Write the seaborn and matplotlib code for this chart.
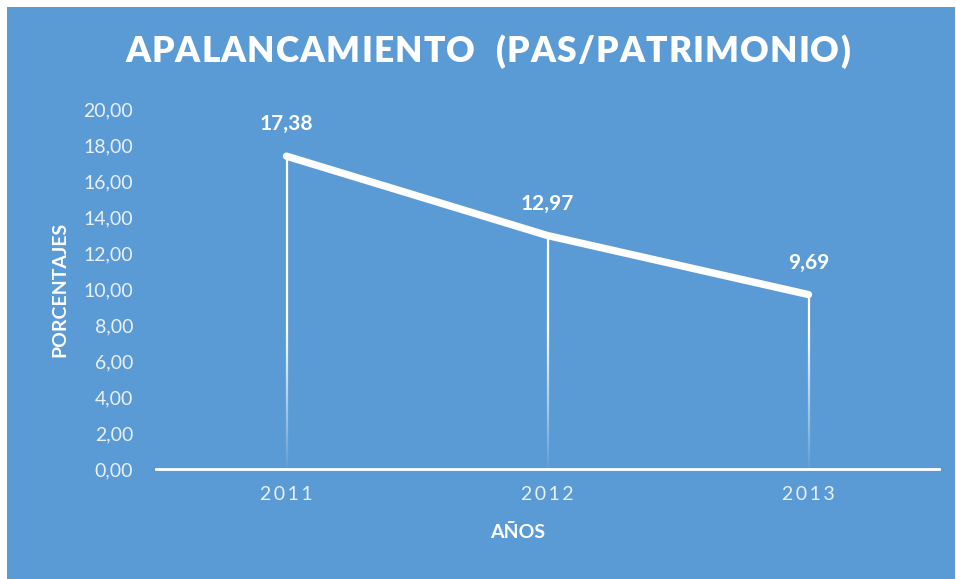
import numpy as np
import pandas as pd
import matplotlib
matplotlib.use("Agg")
import matplotlib.pyplot as plt
import seaborn as sns
from matplotlib.collections import LineCollection
from matplotlib.patches import Rectangle

# ---- data ----
years = ["2011", "2012", "2013"]
values = [17.38, 12.97, 9.69]
yticks = [0, 2, 4, 6, 8, 10, 12, 14, 16, 18, 20]
title = "APALANCAMIENTO  (PAS/PATRIMONIO)"
xlabel = "AÑOS"
ylabel = "PORCENTAJES"

sns.set_theme(style="white")
plt.rcParams["font.family"] = ["Lato", "DejaVu Sans"]

BG = "#5B9BD5"
TICK = "#E9F0F8"
W, H = 956, 579
fig = plt.figure(figsize=(W / 100, H / 100), dpi=100, facecolor="white")
fig.patches.append(Rectangle((7 / W, 0), (955 - 7) / W, (H - 7) / H,
                             transform=fig.transFigure, facecolor=BG,
                             edgecolor="none", zorder=-10))

ax = fig.add_axes([156 / W, 110 / H, (939 - 156) / W, 360 / H])
ax.set_facecolor("none")
ax.set_zorder(1)

df = pd.DataFrame({"pos": np.arange(len(years)), "val": values, "year": years})

# drop lines with gradient fading toward the axis
segs, cols = [], []
for p, v in zip(df["pos"], df["val"]):
    ys = np.linspace(0, v, 80)
    for a, b in zip(ys[:-1], ys[1:]):
        segs.append([(p, a), (p, b)])
        m = (a + b) / 2
        alpha = float(np.clip(0.03 + m / 8.0, 0, 1))
        cols.append((1, 1, 1, alpha))
ax.add_collection(LineCollection(segs, colors=cols, linewidths=1.6, zorder=2))

sns.lineplot(data=df, x="pos", y="val", color="white", linewidth=5.3,
             ax=ax, zorder=3, solid_capstyle="round", solid_joinstyle="round")

for p, v in zip(df["pos"], df["val"]):
    ax.annotate(f"{v:.2f}".replace(".", ","), (p, v), xytext=(0, 23),
                textcoords="offset points", ha="center", va="center",
                color="white", fontsize=15, fontweight="bold")

ax.set_xlim(-0.5, len(years) - 0.5)
ax.set_ylim(0, 20)
ax.set_yticks(yticks)
ax.set_yticklabels([f"{t:.2f}".replace(".", ",") for t in yticks],
                   color=TICK, fontsize=14)
ax.set_xticks(df["pos"])
ax.set_xticklabels(["\u2009".join(y) for y in years], color=TICK, fontsize=14)
ax.tick_params(axis="y", length=0, pad=16.5)
ax.tick_params(axis="x", length=0, pad=12)
for s in ["top", "right", "left"]:
    ax.spines[s].set_visible(False)
ax.spines["bottom"].set_color("white")
ax.spines["bottom"].set_linewidth(2)
ax.spines["bottom"].set_zorder(4)

ax.set_xlabel(xlabel, color="white", fontsize=14, fontweight="bold")
ax.set_ylabel(ylabel, color="white", fontsize=14, fontweight="bold")
ax.xaxis.set_label_coords((518 - 156) / 783, (469 - 524) / 360)
ax.yaxis.set_label_coords((68 - 156) / 783, 0.5)

# title with letter spacing
renderer = fig.canvas.get_renderer()
tkw = dict(color="white", fontsize=25.5, fontweight="heavy")
widths = []
for ch in title:
    t = fig.text(0, 0, ch if ch != " " else "n", **tkw)
    bb = t.get_window_extent(renderer)
    widths.append(bb.width * (0.45 if ch == " " else 1.0))
    t.remove()
total = 725
spacing = (total - sum(widths)) / (len(title) - 1)
x = 125
for ch, w in zip(title, widths):
    if ch != " ":
        fig.text(x / W, 1 - 52 / H, ch, ha="left", va="center", **tkw)
    x += w + spacing

fig.savefig("out.png", dpi=100, facecolor="white")
